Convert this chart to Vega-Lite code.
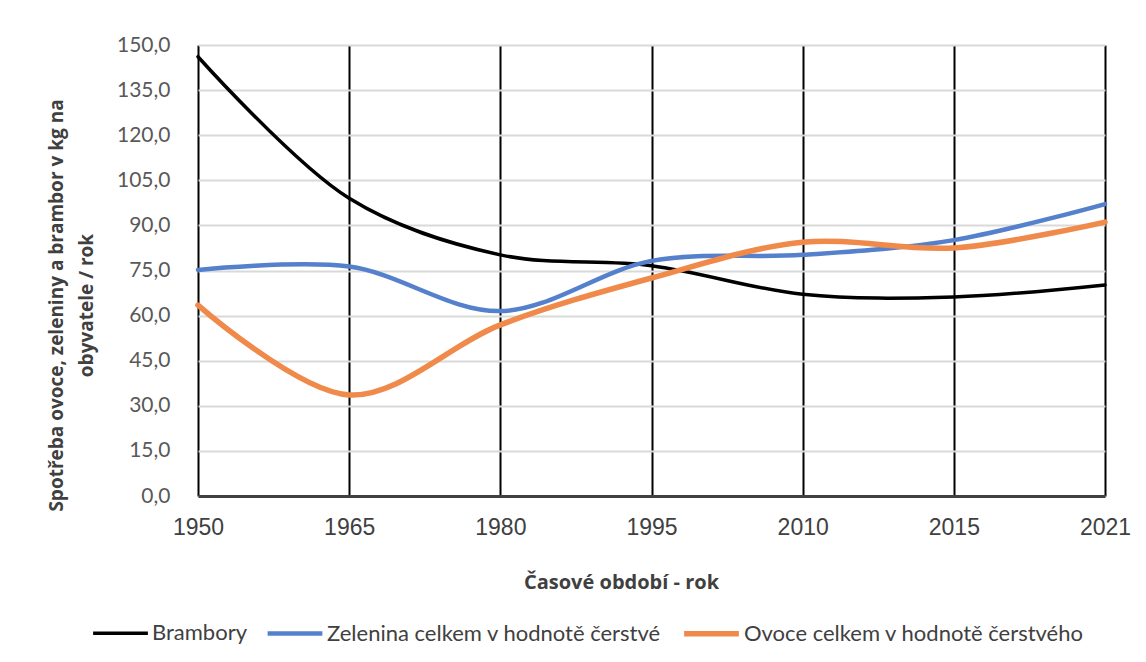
{
  "$schema": "https://vega.github.io/schema/vega-lite/v6.json",
  "autosize": "none",
  "width": 907,
  "height": 451,
  "padding": {"left": 198, "top": 45, "right": 41, "bottom": 166},
  "background": "white",
  "config": {
    "locale": {"number": {"decimal": ",", "thousands": " ", "grouping": [3], "currency": ["", " Kč"]}},
    "view": {"stroke": null},
    "font": "Lato"
  },
  "data": {
    "values": [
      {"rok": "1950", "serie": "Brambory", "hodnota": 146.1},
      {"rok": "1965", "serie": "Brambory", "hodnota": 99.0},
      {"rok": "1980", "serie": "Brambory", "hodnota": 80.2},
      {"rok": "1995", "serie": "Brambory", "hodnota": 76.6},
      {"rok": "2010", "serie": "Brambory", "hodnota": 67.1},
      {"rok": "2015", "serie": "Brambory", "hodnota": 66.2},
      {"rok": "2021", "serie": "Brambory", "hodnota": 70.2},
      {"rok": "1950", "serie": "Zelenina celkem v hodnotě čerstvé", "hodnota": 75.2},
      {"rok": "1965", "serie": "Zelenina celkem v hodnotě čerstvé", "hodnota": 76.3},
      {"rok": "1980", "serie": "Zelenina celkem v hodnotě čerstvé", "hodnota": 61.5},
      {"rok": "1995", "serie": "Zelenina celkem v hodnotě čerstvé", "hodnota": 78.2},
      {"rok": "2010", "serie": "Zelenina celkem v hodnotě čerstvé", "hodnota": 80.2},
      {"rok": "2015", "serie": "Zelenina celkem v hodnotě čerstvé", "hodnota": 85.1},
      {"rok": "2021", "serie": "Zelenina celkem v hodnotě čerstvé", "hodnota": 97.1},
      {"rok": "1950", "serie": "Ovoce celkem v hodnotě čerstvého", "hodnota": 63.5},
      {"rok": "1965", "serie": "Ovoce celkem v hodnotě čerstvého", "hodnota": 33.6},
      {"rok": "1980", "serie": "Ovoce celkem v hodnotě čerstvého", "hodnota": 56.9},
      {"rok": "1995", "serie": "Ovoce celkem v hodnotě čerstvého", "hodnota": 72.5},
      {"rok": "2010", "serie": "Ovoce celkem v hodnotě čerstvého", "hodnota": 84.4},
      {"rok": "2015", "serie": "Ovoce celkem v hodnotě čerstvého", "hodnota": 82.5},
      {"rok": "2021", "serie": "Ovoce celkem v hodnotě čerstvého", "hodnota": 91.1}
    ]
  },
  "mark": {"type": "line", "interpolate": "catmull-rom", "strokeCap": "round"},
  "encoding": {
    "x": {
      "field": "rok",
      "type": "ordinal",
      "scale": {"type": "point", "padding": 0},
      "axis": {
        "title": "Časové období - rok",
        "titleFont": "Open Sans",
        "titleFontSize": 20,
        "titleFontWeight": "bold",
        "titleColor": "#404040",
        "titleX": 423,
        "titleY": 86,
        "titleBaseline": "middle",
        "labelAngle": 0,
        "labelFont": "Liberation Sans",
        "labelFontSize": 23,
        "labelColor": "#404040",
        "labelPadding": 20,
        "ticks": false,
        "grid": true,
        "gridColor": "#000000",
        "gridWidth": 2,
        "domain": true,
        "domainColor": "#404040",
        "domainWidth": 3
      }
    },
    "y": {
      "field": "hodnota",
      "type": "quantitative",
      "scale": {"domain": [0, 150], "nice": false, "zero": true},
      "axis": {
        "title": ["Spotřeba ovoce, zeleniny a brambor v kg na", "obyvatele / rok"],
        "titleFont": "Open Sans",
        "titleFontSize": 19,
        "titleFontWeight": "bold",
        "titleColor": "#404040",
        "titleLineHeight": 30,
        "titlePadding": 20,
        "titleY": 260,
        "values": [0, 15, 30, 45, 60, 75, 90, 105, 120, 135, 150],
        "format": ".1f",
        "labelFont": "Lato",
        "labelFontSize": 21,
        "labelColor": "#595959",
        "labelPadding": 28,
        "ticks": false,
        "domain": false,
        "grid": true,
        "gridColor": "#d9d9d9",
        "gridWidth": 2
      }
    },
    "color": {
      "field": "serie",
      "type": "nominal",
      "scale": {
        "domain": ["Brambory", "Zelenina celkem v hodnotě čerstvé", "Ovoce celkem v hodnotě čerstvého"],
        "range": ["#000000", "#5580CC", "#F08A4B"]
      },
      "legend": {
        "title": null,
        "orient": "none",
        "legendX": -107,
        "legendY": 558,
        "direction": "horizontal",
        "symbolType": "stroke",
        "symbolStrokeWidth": 5,
        "symbolSize": 3000,
        "labelFont": "Lato",
        "labelFontSize": 22,
        "labelColor": "#404040",
        "labelLimit": 500,
        "labelOffset": 2,
        "columnPadding": 11
      }
    },
    "strokeWidth": {
      "field": "serie",
      "type": "nominal",
      "scale": {
        "domain": ["Brambory", "Zelenina celkem v hodnotě čerstvé", "Ovoce celkem v hodnotě čerstvého"],
        "range": [3.5, 5.5, 5.5]
      },
      "legend": null
    }
  }
}
